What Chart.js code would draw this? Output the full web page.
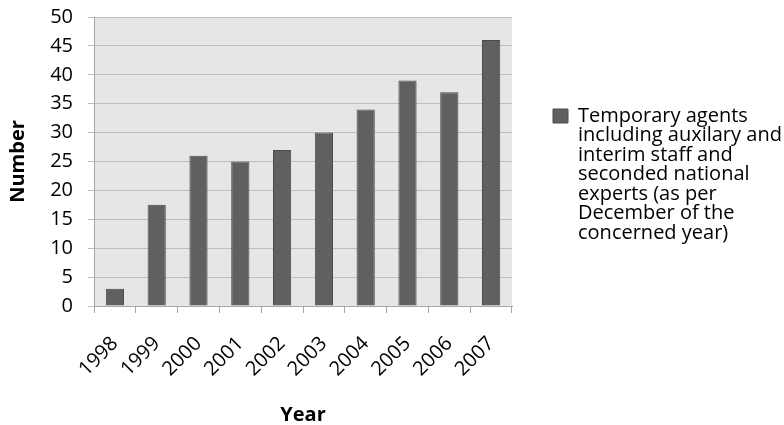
<!DOCTYPE html>
<html>
<head>
<meta charset="utf-8">
<script src="https://cdn.jsdelivr.net/npm/chart.js@4"></script>
<style>
  html, body { margin: 0; padding: 0; background: #ffffff; }
  #wrap { width: 784px; height: 425px; }
</style>
</head>
<body>
<div id="wrap"><canvas id="c" width="784" height="425"></canvas></div>
<script>
// Staff numbers per year
const years = ['1998', '1999', '2000', '2001', '2002', '2003', '2004', '2005', '2006', '2007'];
const staffCounts = [3, 17.5, 26, 25, 27, 30, 34, 39, 37, 46];
const seriesLabel = ['Temporary agents', 'including auxilary and', 'interim staff and', 'seconded national', 'experts (as per', 'December of the', 'concerned year)'];
const yTicks = [0, 5, 10, 15, 20, 25, 30, 35, 40, 45, 50];

const FONT = '"Open Sans", Lato, sans-serif';

// Shade the plotting area grey behind the bars
const plotBackground = {
  id: 'plotBackground',
  beforeDraw(chart) {
    const { ctx, chartArea: a } = chart;
    ctx.save();
    ctx.fillStyle = '#e6e6e6';
    ctx.fillRect(a.left, a.top, a.right - a.left, a.bottom - a.top);
    ctx.restore();
  }
};

new Chart(document.getElementById('c'), {
  type: 'bar',
  data: {
    labels: years,
    datasets: [{
      label: seriesLabel.join(' '),
      data: staffCounts,
      backgroundColor: '#606060',
      borderColor: '#4a4a4a',
      borderWidth: 1,
      categoryPercentage: 1,
      barPercentage: 0.435
    }]
  },
  options: {
    responsive: false,
    animation: false,
    layout: { padding: { top: 17, left: 0, right: 0, bottom: 0 } },
    plugins: {
      tooltip: { enabled: false },
      legend: {
        position: 'right',
        align: 'center',
        fullSize: false,
        maxWidth: 272,
        // empty title only reserves space above the legend entry
        title: {
          display: true,
          text: '',
          font: { family: FONT, size: 10, lineHeight: 1 },
          padding: { top: 15.5, bottom: 0 }
        },
        labels: {
          color: '#000000',
          font: { family: FONT, size: 20, lineHeight: 0.975 },
          boxWidth: 15,
          boxHeight: 14,
          padding: 41,
          generateLabels() {
            return [{
              text: seriesLabel,
              fillStyle: '#606060',
              strokeStyle: '#4a4a4a',
              fontColor: '#000000',
              lineWidth: 1,
              datasetIndex: 0
            }];
          }
        }
      }
    },
    scales: {
      x: {
        grid: {
          offset: true,
          drawOnChartArea: false,
          drawTicks: true,
          tickLength: 7,
          color: '#a6a6a6'
        },
        border: { color: '#a6a6a6' },
        ticks: {
          color: '#000000',
          font: { family: FONT, size: 20 },
          minRotation: 45,
          maxRotation: 45,
          padding: 19
        },
        title: {
          display: true,
          text: 'Year',
          color: '#000000',
          font: { family: FONT, size: 20, weight: 'bold', lineHeight: 1 },
          padding: { top: 0, bottom: 0 }
        },
        afterFit(s) { s.height = 119; s.paddingLeft = 0; s.paddingRight = 0; }
      },
      y: {
        min: 0,
        max: 50,
        afterBuildTicks(s) { s.ticks = yTicks.map(v => ({ value: v })); },
        grid: {
          color: '#bdbdbd',
          tickLength: 6,
          drawTicks: true
        },
        border: { color: '#a6a6a6' },
        ticks: {
          color: '#000000',
          font: { family: FONT, size: 20 },
          padding: 15
        },
        title: {
          display: true,
          text: 'Number',
          color: '#000000',
          font: { family: FONT, size: 20, weight: 'bold' },
          padding: { top: 6, bottom: 0 }
        },
        afterFit(s) { s.width = 94; s.paddingTop = 0; s.paddingBottom = 0; }
      }
    }
  },
  plugins: [plotBackground]
});
</script>
</body>
</html>
